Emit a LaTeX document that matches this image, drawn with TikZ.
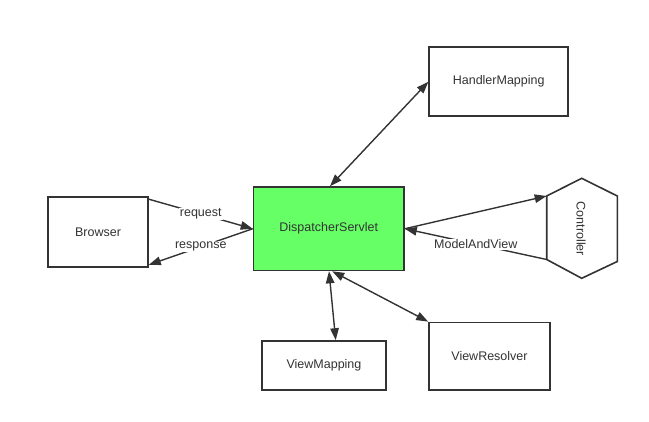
\documentclass[tikz,border=0pt]{standalone}
\usepackage{fontspec}
\setmainfont{Liberation Sans}
\usetikzlibrary{arrows.meta}
\definecolor{ink}{HTML}{333333}
\definecolor{dgreen}{HTML}{66FF66}
\begin{document}
\begin{tikzpicture}[x=1pt,y=-1pt,
  box/.style={draw=ink,line width=1.6pt,rectangle,inner sep=0pt,font=\fontsize{12.5}{14}\selectfont,text=ink},
  conn/.style={draw=ink,line width=1.4pt,-{Triangle[length=12pt,width=8.5pt]}},
  biconn/.style={draw=ink,line width=1.4pt,{Triangle[length=12pt,width=8.5pt]}-{Triangle[length=12pt,width=8.5pt]}},
  lbl/.style={fill=white,inner sep=1pt,font=\fontsize{12.5}{14}\selectfont,text=ink}]
\useasboundingbox (0,0) rectangle (649,422);
\node[box,minimum width=100pt,minimum height=70pt] (browser) at (98,232) {Browser};
\node[box,fill=dgreen,minimum width=150.5pt,minimum height=83.5pt] (disp) at (328.75,228.75) {DispatcherServlet};
\node[box,minimum width=139pt,minimum height=69pt] (hm) at (498.7,81.7) {HandlerMapping};
\node[box,minimum width=124pt,minimum height=49pt] (vm) at (324,365.5) {ViewMapping};
\node[box,minimum width=121pt,minimum height=67.5pt] (vr) at (489.5,356.2) {ViewResolver};
% controller hexagon
\coordinate (ct) at (581.7,178.3);
\coordinate (cul) at (546.7,196);
\coordinate (cll) at (546.7,259.5);
\coordinate (cb) at (581.7,278.3);
\coordinate (clr) at (617.3,261.5);
\coordinate (cur) at (617.3,196);
\draw[ink,line width=1.6pt,line join=miter] (ct) -- (cul) -- (cll) -- (cb) -- (clr) -- (cur) -- cycle;
\node[rotate=-90,text=ink,font=\fontsize{12.5}{14}\selectfont] (ctrl) at (581,229) {Controller};
% connectors
\draw[conn] ([yshift=-3pt]browser.north east) -- node[lbl,pos=0.5] {request} (disp.west);
\draw[conn] (disp.west) -- node[lbl,pos=0.5] {response} ([yshift=3pt]browser.south east);
\draw[biconn] ([xshift=1.25pt]disp.north) -- (hm.west);
\draw[conn] (disp.east) -- (cul);
\draw[conn] (cll) -- node[lbl,pos=0.5] {ModelAndView} (disp.east);
\draw[biconn] ([xshift=0.25pt]disp.south) -- ([xshift=11.7pt]vm.north);
\draw[biconn] ([xshift=3.5pt]disp.south) -- (vr.north west);
\end{tikzpicture}
\end{document}
